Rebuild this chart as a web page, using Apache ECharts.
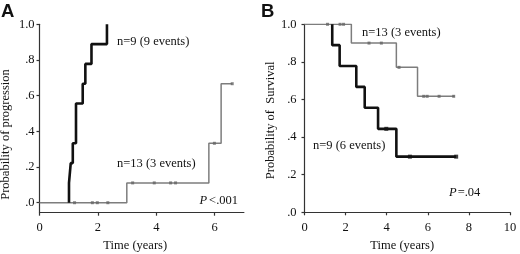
<!DOCTYPE html>
<html><head><meta charset="utf-8">
<script src="https://cdn.jsdelivr.net/npm/echarts@6/dist/echarts.min.js"></script>
<style>html,body{margin:0;padding:0;background:#fff}#c{width:520px;height:254px}</style>
</head><body><div id="c"></div>
<script>
// Panel A: probability of progression
var aFastT = [1.01, 1.01, 1.07, 1.14, 1.25, 1.25, 1.48, 1.57, 1.78, 2.31];
var aFastV = [0, 0.111, 0.222, 0.333, 0.444, 0.556, 0.667, 0.778, 0.889, 1.0];
var aSlowT = [0, 2.99, 5.8, 6.22, 6.6];
var aSlowV = [0, 0.111, 0.333, 0.667, 0.667];
var aSlowCensT = [1.2, 1.81, 1.98, 2.34, 3.19, 3.93, 4.49, 4.66, 5.99, 6.6];
var aSlowCensV = [0, 0, 0, 0, 0.111, 0.111, 0.111, 0.111, 0.333, 0.667];
// Panel B: probability of survival
var bSlowT = [0, 2.28, 4.47, 5.5, 7.3];
var bSlowV = [1, 0.9, 0.771, 0.617, 0.617];
var bSlowCensT = [1.12, 1.73, 1.9, 3.14, 3.74, 4.6, 5.8, 5.97, 6.55, 7.26];
var bSlowCensV = [1, 1, 1, 0.9, 0.9, 0.771, 0.617, 0.617, 0.617, 0.617];
var bFastT = [1.35, 1.35, 1.71, 2.52, 2.93, 3.58, 4.47, 7.38];
var bFastV = [1, 0.889, 0.778, 0.667, 0.556, 0.444, 0.296, 0.296];
var bFastCensT = [3.98, 5.13, 7.38];
var bFastCensV = [0.444, 0.296, 0.296];
// ticks
var yTicks = [0, 0.2, 0.4, 0.6, 0.8, 1.0];
var yTickLabels = ['.0', '.2', '.4', '.6', '.8', '1.0'];
var aXTicks = [0, 2, 4, 6];

function pairs(t, v) { return t.map(function (x, i) { return [x, v[i]]; }); }
var FONT = '"Liberation Serif", "Times New Roman", serif';
var FS = 12.5;
var axisLineStyle = { color: '#333', width: 1.2 };
function yLabel(v) {
  for (var i = 0; i < yTicks.length; i++) if (Math.abs(yTicks[i] - v) < 1e-6) return yTickLabels[i];
  return '';
}
var gray = '#7d7d7d';

var chart = echarts.init(document.getElementById('c'), null, { renderer: 'canvas' });
chart.setOption({
  animation: false,
  textStyle: { fontFamily: FONT },
  grid: [
    { left: 39.5, top: 24.3, width: 204.4, height: 188.4, containLabel: false, outerBoundsMode: 'none' },
    { left: 304.5, top: 24.3, width: 205.5, height: 188, containLabel: false, outerBoundsMode: 'none' }
  ],
  xAxis: [
    { gridIndex: 0, type: 'value', min: 0, max: 7,
      name: 'Time (years)', nameLocation: 'middle', nameGap: 26.5,
      nameTextStyle: { fontFamily: FONT, fontSize: FS, color: '#111', verticalAlign: 'middle', padding: [0, 13, 0, 0] },
      axisLine: { show: true, onZero: false, lineStyle: axisLineStyle },
      axisTick: { show: true, length: 3, customValues: aXTicks, lineStyle: axisLineStyle },
      axisLabel: { customValues: aXTicks, margin: 9, fontFamily: FONT, fontSize: FS, color: '#111' },
      splitLine: { show: false } },
    { gridIndex: 1, type: 'value', min: 0, max: 10, interval: 2,
      name: 'Time (years)', nameLocation: 'middle', nameGap: 25.5,
      nameTextStyle: { fontFamily: FONT, fontSize: FS, color: '#111', verticalAlign: 'middle', padding: [0, 10, 0, 0] },
      axisLine: { show: true, onZero: false, lineStyle: axisLineStyle },
      axisTick: { show: true, length: 3, lineStyle: axisLineStyle },
      axisLabel: { margin: 9, fontFamily: FONT, fontSize: FS, color: '#111' },
      splitLine: { show: false } }
  ],
  yAxis: [
    { gridIndex: 0, type: 'value', min: -0.056, max: 1,
      name: 'Probability of progression', nameLocation: 'middle', nameRotate: 90, nameGap: 27,
      nameTextStyle: { fontFamily: FONT, fontSize: FS, color: '#111', padding: [0, 32, 0, 0] },
      axisLine: { show: true, onZero: false, lineStyle: axisLineStyle },
      axisTick: { show: true, length: 3, customValues: yTicks, lineStyle: axisLineStyle },
      axisLabel: { customValues: yTicks, formatter: yLabel, margin: 5, padding: [9, 0, 0, 0], fontFamily: FONT, fontSize: FS, color: '#111' },
      splitLine: { show: false } },
    { gridIndex: 1, type: 'value', min: 0, max: 1, interval: 0.2,
      name: 'Probability of  Survival', nameLocation: 'middle', nameRotate: 90, nameGap: 23,
      nameTextStyle: { fontFamily: FONT, fontSize: FS, color: '#111', padding: [0, 4, 0, 0] },
      axisLine: { show: true, onZero: false, lineStyle: axisLineStyle },
      axisTick: { show: true, length: 3, lineStyle: axisLineStyle },
      axisLabel: { formatter: yLabel, margin: 8, padding: [9, 0, 0, 0], fontFamily: FONT, fontSize: FS, color: '#111' },
      splitLine: { show: false } }
  ],
  series: [
    { type: 'line', xAxisIndex: 0, yAxisIndex: 0, step: 'end', showSymbol: false,
      data: pairs(aSlowT, aSlowV), lineStyle: { color: gray, width: 1.5 }, z: 2 },
    { type: 'scatter', xAxisIndex: 0, yAxisIndex: 0, symbol: 'rect', symbolSize: 3,
      data: pairs(aSlowCensT, aSlowCensV), itemStyle: { color: '#666' }, z: 3 },
    { type: 'line', xAxisIndex: 0, yAxisIndex: 0, step: 'end', showSymbol: false,
      data: pairs(aFastT, aFastV), lineStyle: { color: '#111', width: 2.6 }, z: 4 },
    { type: 'line', xAxisIndex: 1, yAxisIndex: 1, step: 'end', showSymbol: false,
      data: pairs(bSlowT, bSlowV), lineStyle: { color: gray, width: 1.5 }, z: 2 },
    { type: 'scatter', xAxisIndex: 1, yAxisIndex: 1, symbol: 'rect', symbolSize: 3,
      data: pairs(bSlowCensT, bSlowCensV), itemStyle: { color: '#666' }, z: 3 },
    { type: 'line', xAxisIndex: 1, yAxisIndex: 1, step: 'end', showSymbol: false,
      data: pairs(bFastT, bFastV), lineStyle: { color: '#111', width: 2.6 }, z: 4 },
    { type: 'scatter', xAxisIndex: 1, yAxisIndex: 1, symbol: 'rect', symbolSize: 4,
      data: pairs(bFastCensT, bFastCensV), itemStyle: { color: '#111' }, z: 5 }
  ],
  graphic: [
    { type: 'text', left: 1, top: 2, style: { text: 'A', font: 'bold 18.5px "Liberation Sans", Arial, sans-serif', fill: '#111' } },
    { type: 'text', left: 261, top: 2, style: { text: 'B', font: 'bold 18.5px "Liberation Sans", Arial, sans-serif', fill: '#111' } },
    { type: 'text', x: 117, y: 42, style: { text: 'n=9 (9 events)', font: FS + 'px ' + FONT, fill: '#111', verticalAlign: 'middle' } },
    { type: 'text', x: 117, y: 164, style: { text: 'n=13 (3 events)', font: FS + 'px ' + FONT, fill: '#111', verticalAlign: 'middle' } },
    { type: 'text', x: 238, y: 201, style: { text: '{i|P}<.001', align: 'right', verticalAlign: 'middle', font: FS + 'px ' + FONT, fill: '#111',
      rich: { i: { fontStyle: 'italic', fontFamily: FONT, fontSize: FS, fill: '#111', padding: [0, 2, 0, 0] } } } },
    { type: 'text', x: 362, y: 33, style: { text: 'n=13 (3 events)', font: FS + 'px ' + FONT, fill: '#111', verticalAlign: 'middle' } },
    { type: 'text', x: 313, y: 146, style: { text: 'n=9 (6 events)', font: FS + 'px ' + FONT, fill: '#111', verticalAlign: 'middle' } },
    { type: 'text', x: 449, y: 193, style: { text: '{i|P}=.04', verticalAlign: 'middle', font: FS + 'px ' + FONT, fill: '#111',
      rich: { i: { fontStyle: 'italic', fontFamily: FONT, fontSize: FS, fill: '#111', padding: [0, 1, 0, 0] } } } }
  ]
});
</script>
</body></html>
